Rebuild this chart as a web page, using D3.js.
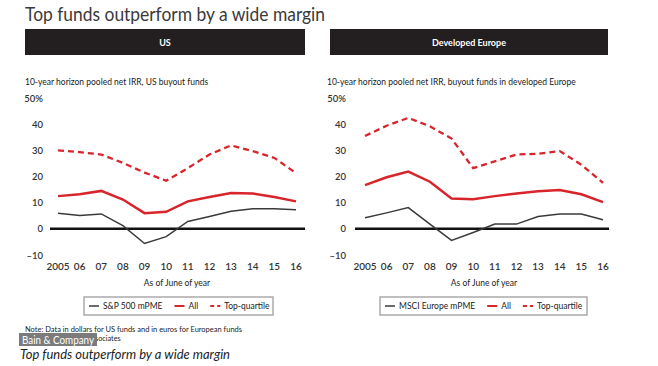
<!DOCTYPE html>
<html><head><meta charset="utf-8">
<script src="https://cdn.jsdelivr.net/npm/d3@7/dist/d3.min.js"></script>
<style>
body{margin:0;background:#fff;}
text{font-family:Lato,"Open Sans",sans-serif;}
</style></head>
<body><svg id="c" width="658" height="366"></svg>
<script>
const years = ["2005","06","07","08","09","10","11","12","13","14","15","16"];
const yTicks = [-10,0,10,20,30,40,50];
const usTop = [30,29.3,28.4,25.2,21.5,18.4,23.2,28.4,31.9,29.7,27.1,21.3];
const usAll = [12.5,13.2,14.5,11.2,6,6.5,10.5,12.2,13.7,13.5,12.2,10.5];
const usPme = [6,5.1,5.7,1.2,-5.6,-3,2.8,4.7,6.7,7.7,7.7,7.3];
const euTop = [35.5,39.4,42.4,39.2,34.5,23.2,25.8,28.4,28.7,29.7,24.5,17.6];
const euAll = [16.7,19.7,21.9,18,11.6,11.3,12.5,13.5,14.4,14.8,13.2,10.2];
const euPme = [4.2,6.1,8.1,1.8,-4.4,-1.4,1.8,1.8,4.7,5.7,5.7,3.5];

const RED = "#d8242b", DARK = "#3a3a3a";
const svg = d3.select("#c");

svg.append("text").attr("x",25).attr("y",21).attr("font-size",20)
  .attr("fill","#3a3a3a").attr("textLength",300).attr("lengthAdjust","spacingAndGlyphs")
  .text("Top funds outperform by a wide margin");

const panels = [
  {head:"US", sub:"10-year horizon pooled net IRR, US buyout funds", bx:[25,305], sx:25,
   xr:[58,296], lab:43, zl:[50,305], top:usTop, all:usAll, pme:usPme, pmeName:"S&P 500 mPME",
   leg:[84,273]},
  {head:"Developed Europe", sub:"10-year horizon pooled net IRR, buyout funds in developed Europe", bx:[330,608], sx:327,
   xr:[365,603], lab:346, zl:[355,609], top:euTop, all:euAll, pme:euPme, pmeName:"MSCI Europe mPME",
   leg:[380,587]}
];

const y = d3.scaleLinear().domain([-10,50]).range([255,98]);

panels.forEach(p=>{
  const g = svg.append("g");
  g.append("rect").attr("x",p.bx[0]).attr("y",29).attr("width",p.bx[1]-p.bx[0]).attr("height",26).attr("fill","#231f20");
  g.append("text").attr("x",(p.bx[0]+p.bx[1])/2).attr("y",45.5).attr("text-anchor","middle")
    .attr("fill","#fff").attr("font-size",9).attr("font-weight","bold").text(p.head);
  g.append("text").attr("x",p.sx).attr("y",85).attr("font-size",8.5).attr("fill","#222").text(p.sub);

  const x = d3.scalePoint().domain(years).range(p.xr);
  g.selectAll(".yl").data(yTicks).join("text")
    .attr("x",p.lab).attr("y",d=>y(d)+3.5).attr("text-anchor","end")
    .attr("font-size",9.5).attr("fill","#333").attr("font-weight",600)
    .text(d=>d===50?"50%":(d<0?"\u2013"+(-d):d));
  g.selectAll(".xl").data(years).join("text")
    .attr("x",d=>x(d)).attr("y",270).attr("text-anchor","middle")
    .attr("font-size",10).attr("fill","#333").attr("font-weight",600).text(d=>d);
  g.append("text").attr("x",(p.xr[0]+p.xr[1])/2).attr("y",286).attr("text-anchor","middle")
    .attr("font-size",8.5).attr("fill","#222").text("As of June of year");
  g.append("line").attr("x1",p.zl[0]).attr("x2",p.zl[1]).attr("y1",y(0)).attr("y2",y(0))
    .attr("stroke","#111").attr("stroke-width",2.5);
  const line = d3.line().x((d,i)=>x(years[i])).y(d=>y(d));
  g.append("path").attr("d",line(p.pme)).attr("fill","none").attr("stroke",DARK).attr("stroke-width",1.5);
  g.append("path").attr("d",line(p.all)).attr("fill","none").attr("stroke",RED).attr("stroke-width",2.5);
  g.append("path").attr("d",line(p.top)).attr("fill","none").attr("stroke",RED).attr("stroke-width",2.3)
    .attr("stroke-dasharray","6,4");
  const lg = g.append("g");
  lg.append("rect").attr("x",p.leg[0]).attr("y",297).attr("width",p.leg[1]-p.leg[0]).attr("height",18)
    .attr("fill","#fff").attr("stroke","#aaa").attr("stroke-width",1.5);
  const items = [{n:p.pmeName,c:DARK,w:1.5,d:null},{n:"All",c:RED,w:2,d:null},{n:"Top-quartile",c:RED,w:2,d:"4,3"}];
  let cx = p.leg[0]+5;
  items.forEach(it=>{
    lg.append("line").attr("x1",cx).attr("x2",cx+10).attr("y1",306).attr("y2",306)
      .attr("stroke",it.c).attr("stroke-width",it.w).attr("stroke-dasharray",it.d);
    const t = lg.append("text").attr("x",cx+14).attr("y",309).attr("font-size",8.5).attr("fill","#222").text(it.n);
    cx += 14 + t.node().getComputedTextLength() + 12;
  });
});

svg.append("text").attr("x",25).attr("y",332).attr("font-size",7.3).attr("fill","#222")
  .attr("textLength",217).attr("lengthAdjust","spacingAndGlyphs")
  .text("Note: Data in dollars for US funds and in euros for European funds");
svg.append("text").attr("x",25).attr("y",341).attr("font-size",7.3).attr("fill","#222")
  .text("Source: Cambridge Associates");
svg.append("rect").attr("x",19).attr("y",333).attr("width",78).attr("height",13).attr("fill","#7b7b7b");
svg.append("text").attr("x",22).attr("y",343.5).attr("font-size",11.5).attr("fill","#fff")
  .attr("font-family","'DejaVu Serif',serif").attr("textLength",72).attr("lengthAdjust","spacingAndGlyphs")
  .text("Bain & Company");
svg.append("text").attr("x",20).attr("y",359).attr("font-size",12.5).attr("fill","#222")
  .attr("font-family","'DejaVu Serif',serif").attr("font-style","italic")
  .attr("textLength",210).attr("lengthAdjust","spacingAndGlyphs")
  .text("Top funds outperform by a wide margin");
</script></body></html>
